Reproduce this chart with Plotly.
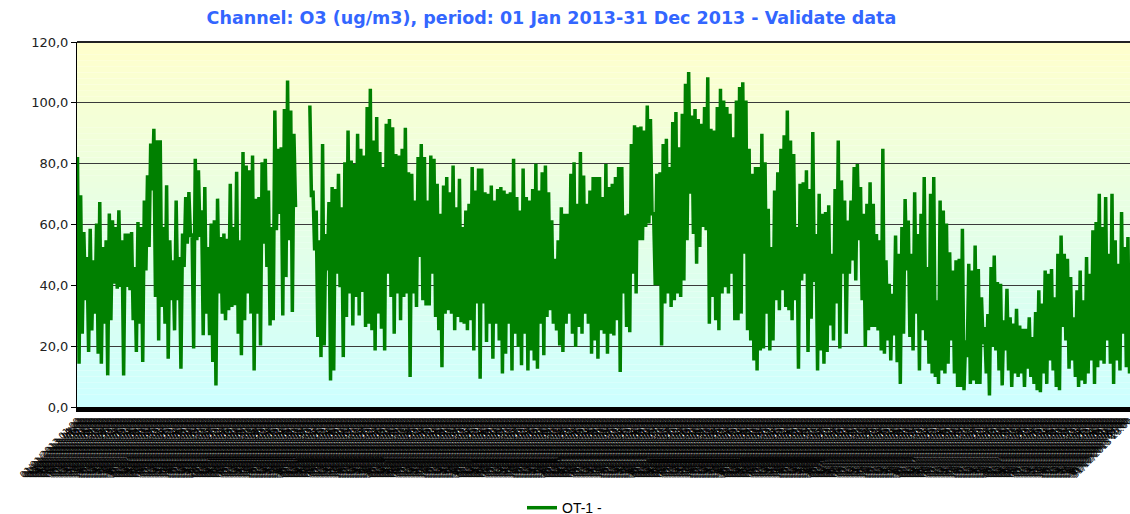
import plotly.graph_objects as go
import pandas as pd

# ---- data (O3, ug/m3), alternating local highs / lows ----
o3_jan_feb = [82.2, 14.2, 69.6, 24.1, 57.5, 35.1, 49.3, 18.1, 58.6, 25.2, 48.2, 30.7,
              60.3, 17.5, 67.4, 14.2, 52.6, 27.4, 54.8, 10.4, 63.6, 28.5, 61.4, 40.5,
              59.2, 38.9, 64.7, 39.5, 54.8, 10.4, 57.0, 39.5, 57.0, 38.4, 57.5, 28.5,
              46.0, 18.1, 60.8, 27.4, 59.2, 14.8, 67.9, 44.9, 76.2, 52.6, 86.6, 71.2,
              91.5, 36.2, 87.7, 21.9, 87.7, 32.9, 59.2, 27.4, 72.9, 15.9, 54.8, 35.1,
              48.2, 25.2, 67.9, 35.1, 49.3, 12.6, 57.0, 46.0, 69.0, 53.7, 70.7, 55.9,
              57.0, 19.2, 81.6, 54.8, 77.8, 55.9, 64.7, 23.6, 72.3, 30.7, 52.6, 23.6,
              60.3, 14.8, 61.4, 7.1, 68.5, 37.3, 55.9, 30.7, 57.0, 28.5, 55.3, 31.8,
              73.4, 32.9, 59.2, 33.5, 77.3, 24.1, 54.8, 17.0]
o3_mar_apr = [83.8, 28.5, 79.4, 37.3, 77.8, 30.7, 82.7, 12.0, 68.5, 30.7, 69.0, 20.2,
              80.5, 53.7, 81.6, 46.0, 71.2, 26.8, 59.2, 28.5, 97.5, 58.1, 84.9, 63.5,
              85.4, 30.1, 98.0, 42.7, 107.3, 54.8, 97.5, 31.2, 89.8, 65.7,
              None, None, None, None, None, None, None, None,
              99.1, 69.0, 71.2, 51.5, 64.6, 23.0, 54.8, 16.4, 86.5, 20.2, 56.9, 44.9,
              67.4, 8.7, 72.3, 12.0, 71.7, 43.8, 76.7, 39.4, 65.7, 16.4, 80.5, 29.6,
              90.9, 37.3, 81.0, 26.8, 79.9, 36.2, 89.8, 30.1, 84.9, 37.8, 82.7, 26.3,
              98.6, 27.4, 104.6, 25.2, 87.6, 18.6, 95.3, 30.7, 83.8, 25.7, 78.9, 18.6,
              93.1, 43.8, 94.7, 36.2, 92.0, 24.1, 83.2, 37.3, 82.7, 28.5, 84.9, 36.2]
o3_may_jun = [91.8, 37.3, 77.2, 9.9, 76.7, 37.3, 67.9, 32.9, 82.2, 49.3, 86.5, 35.1,
              82.2, 33.4, 67.9, 33.4, 82.7, 43.8, 81.6, 29.6, 73.4, 25.2, 63.5, 13.1,
              72.8, 30.7, 75.6, 31.8, 70.6, 30.7, 79.4, 25.2, 65.7, 29.6, 75.0, 27.9,
              59.2, 27.4, 64.6, 25.2, 66.8, 28.5, 78.9, 18.6, 71.2, 34.0, 78.4, 9.3,
              78.4, 34.0, 70.6, 21.4, 70.1, 27.4, 72.8, 15.9, 67.9, 27.4, 71.7, 21.9,
              72.3, 11.0, 71.2, 17.5, 70.1, 27.4, 70.6, 12.0, 81.6, 24.1, 69.0, 19.7,
              64.6, 13.7, 78.4, 24.1, 69.0, 12.0, 67.9, 18.6, 71.7, 15.3, 80.0, 12.6,
              71.2, 27.4, 77.2, 17.0, 79.4, 29.6, 70.6, 31.8, 61.4, 27.4, 48.7, 25.2,
              54.8, 20.2, 65.7, 18.1, 63.5, 27.4]
o3_jul_aug = [63.5, 30.7, 76.7, 24.1, 80.5, 19.7, 66.8, 26.3, 83.8, 24.1, 76.1, 30.7,
              66.8, 27.4, 71.2, 17.5, 75.6, 21.9, 75.6, 15.9, 75.6, 25.2, 69.0, 24.1,
              79.9, 17.5, 72.3, 24.1, 73.4, 23.5, 75.6, 28.5, 78.9, 11.5, 78.9, 37.3,
              63.0, 26.3, 63.5, 24.6, 86.5, 43.8, 92.6, 37.3, 92.0, 54.8, 92.2, 54.8,
              90.9, 59.2, 99.1, 60.3, 94.7, 63.5, 63.5, 40.0, 76.7, 40.0, 77.2, 20.2,
              86.5, 34.0, 88.2, 37.3, 78.9, 32.9, 93.7, 35.1, 97.0, 37.3, 85.4, 36.2,
              96.4, 41.6, 106.3, 54.8, 110.1, 70.1, 95.8, 56.9, 98.0, 47.1, 94.7, 52.6,
              93.1, 59.2, 98.6, 58.1, 108.4, 27.4, 91.5, 36.2, 90.9, 28.5, 98.6, 25.2,
              104.6, 37.3, 100.8, 39.4, 98.6, 37.3, 96.4, 43.8, 88.7, 28.5, 100.8, 28.5,
              105.2, 30.7, 106.8, 50.4, 100.8, 25.2, 84.9, 21.9, 76.7, 15.3, 78.9, 12.0]
o3_sep_oct = [78.9, 18.6, 89.8, 19.2, 80.5, 30.7, 65.2, 18.6, 52.6, 21.9, 71.2, 35.1,
              77.2, 31.8, 84.9, 38.4, 89.3, 32.9, 97.5, 31.8, 87.6, 28.5, 83.2, 35.1,
              59.2, 12.6, 73.4, 41.6, 73.9, 43.8, 77.8, 18.1, 71.7, 29.0, 90.4, 41.1,
              56.9, 12.0, 70.1, 18.6, 63.5, 14.2, 64.1, 18.1, 66.3, 26.8, 50.4, 21.9,
              71.7, 34.0, 87.6, 19.2, 74.5, 43.8, 67.9, 24.1, 61.3, 43.8, 67.9, 48.2,
              78.9, 41.6, 79.9, 54.8, 72.3, 35.1, 63.5, 19.7, 66.8, 25.2, 73.9, 26.3,
              66.8, 26.3, 56.9, 25.2, 54.8, 18.6, 84.9, 17.5, 48.2, 21.9, 40.5, 15.3,
              37.2, 23.5, 56.4, 14.7, 50.4, 7.6, 59.2, 24.1, 68.4, 44.9, 61.3, 23.0,
              50.4, 18.6, 70.6, 30.7, 56.9, 12.0, 63.5, 25.2, 75.6, 21.9, 46.0, 14.2,
              70.1, 11.0, 75.6, 9.9, 35.1, 7.6, 67.9, 12.0]
o3_nov_dec = [64.6, 11.0, 60.3, 14.2, 50.9, 21.9, 44.9, 11.0, 48.2, 6.6, 48.7, 6.6,
              58.6, 5.5, 21.9, 16.4, 47.1, 7.6, 44.9, 8.7, 53.1, 7.6, 45.4, 7.6,
              36.1, 20.7, 26.3, 11.0, 30.6, 3.8, 46.0, 19.7, 49.8, 18.6, 41.1, 12.0,
              40.5, 7.1, 28.5, 18.6, 38.9, 12.0, 29.5, 6.6, 27.4, 11.0, 32.3, 9.9,
              26.8, 11.0, 25.7, 6.6, 25.7, 12.6, 29.5, 9.9, 23.0, 7.6, 31.2, 5.5,
              38.4, 4.9, 34.0, 11.0, 44.9, 7.6, 43.8, 15.3, 45.4, 12.0, 36.1, 6.6,
              50.4, 5.5, 56.4, 26.3, 50.4, 21.9, 48.7, 12.6, 42.7, 15.3, 29.5, 9.9,
              38.4, 6.6, 44.9, 8.7, 35.1, 7.6, 49.3, 11.0, 43.8, 15.3, 58.1, 7.6,
              60.8, 13.1, 70.1, 15.3, 59.2, 14.2, 69.0, 21.9, 50.4, 14.2, 70.1, 7.6,
              54.8, 15.3, 47.1, 12.0, 64.1, 24.1, 52.6, 13.1, 55.9, 11.0]

o3_values = o3_jan_feb + o3_mar_apr + o3_may_jun + o3_jul_aug + o3_sep_oct + o3_nov_dec

# hourly time stamps of the year used as category labels
hours = pd.date_range("2013-01-01 01:00", "2013-12-31 23:00", freq="h")
step = (len(hours) - 1) / (len(o3_values) - 1)
time_labels = [hours[round(i * step)].strftime("%d/%m/%Y %H:%M") for i in range(len(o3_values))]

series_name = "OT-1 -"
title_text = "Channel: O3 (ug/m3), period: 01 Jan 2013-31 Dec 2013 - Validate data"
y_ticks = [0, 20, 40, 60, 80, 100, 120]

fig = go.Figure()
fig.add_trace(go.Scatter(
    x=time_labels, y=o3_values, mode="lines", name=series_name,
    line=dict(color="#008000", width=3.5), connectgaps=False,
))

# vertical gradient background (pale yellow -> pale cyan)
n_bands = 60
top_c = (255, 255, 204)
bot_c = (204, 255, 255)
shapes = []
for i in range(n_bands):
    t = (i + 0.5) / n_bands
    c = tuple(round(bot_c[k] + (top_c[k] - bot_c[k]) * t) for k in range(3))
    shapes.append(dict(type="rect", xref="paper", yref="paper",
                       x0=0, x1=1, y0=i / n_bands, y1=(i + 1) / n_bands,
                       fillcolor="rgb(%d,%d,%d)" % c, line=dict(width=0), layer="below"))
# top frame line of the plot area
shapes.append(dict(type="line", xref="paper", yref="paper", x0=0, x1=1, y0=1, y1=1,
                   line=dict(color="#222222", width=2), layer="above"))

fig.update_layout(
    width=1130, height=514,
    margin=dict(l=77, r=0, t=42, b=107, autoexpand=False),
    paper_bgcolor="white", plot_bgcolor="white",
    separators=",.",
    shapes=shapes,
    title=dict(text="<b>%s</b>" % title_text, xref="container", x=0.488, xanchor="center",
               yref="container", y=0.965, yanchor="middle",
               font=dict(family="DejaVu Sans", size=17.5, color="#3366FF")),
    showlegend=True,
    legend=dict(orientation="h", xref="container", x=0.5, xanchor="center",
                yref="paper", y=-0.277, yanchor="middle",
                font=dict(family="Liberation Sans", size=14, color="black"),
                bgcolor="rgba(0,0,0,0)"),
    xaxis=dict(type="category", tickmode="linear", tick0=0, dtick=1,
               range=[-0.3, len(o3_values) - 0.7],
               tickangle=-45, tickfont=dict(family="DejaVu Sans", size=9, color="black"),
               showgrid=False, zeroline=False, ticks="",
               showline=True, linecolor="black", linewidth=5, automargin=False),
    yaxis=dict(range=[0, 120], tickmode="array", tickvals=y_ticks, tickformat=".1f",
               showgrid=True, gridcolor="#3a3a3a", gridwidth=1, zeroline=False,
               showline=True, linecolor="black", linewidth=1,
               ticks="outside", ticklen=5, tickcolor="black",
               tickfont=dict(family="DejaVu Sans", size=13, color="#222222"),
               automargin=False),
)

fig.write_html("out.html", config={"displayModeBar": False},
               post_script="document.body.style.margin='0';document.body.style.overflow='hidden';")
